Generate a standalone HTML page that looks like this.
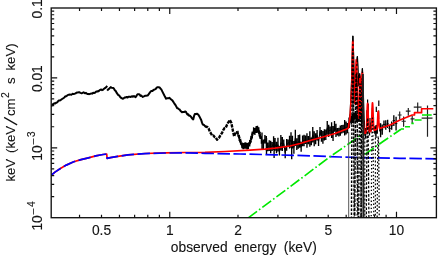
<!DOCTYPE html>
<html><head><meta charset="utf-8"><title>spectrum</title>
<style>html,body{margin:0;padding:0;background:#fff;}body{width:438px;height:256px;overflow:hidden;position:relative;font-family:"Liberation Sans",sans-serif;}</style>
</head><body>
<svg width="438" height="256" viewBox="0 0 438 256" style="position:absolute;left:0;top:0">
<rect width="438" height="256" fill="#fff"/>
<defs><clipPath id="c"><rect x="51.20" y="8.00" width="385.20" height="209.70"/></clipPath></defs>
<g clip-path="url(#c)" fill="none" stroke-linejoin="round">
<path d="M50.80 106.56 L51.60 105.73 L52.40 104.63 L53.20 104.07 L54.27 103.33 L55.33 103.41 L56.40 102.63 L57.20 102.30 L58.00 101.28 L58.80 100.60 L59.60 100.61 L60.67 100.08 L61.73 99.25 L62.80 98.51 L63.60 98.04 L64.40 97.49 L65.20 96.50 L66.00 96.32 L66.80 95.83 L67.60 95.18 L68.40 94.85 L69.20 94.78 L70.00 94.48 L70.80 94.64 L71.60 94.63 L72.40 93.85 L73.47 94.00 L74.53 93.72 L75.60 93.36 L76.40 92.69 L77.20 92.47 L78.00 92.40 L78.80 92.30 L79.60 92.35 L80.40 92.82 L81.20 93.15 L82.00 93.14 L83.60 92.28 L84.40 92.79 L85.20 93.27 L86.00 92.88 L86.80 93.61 L87.60 94.01 L88.40 94.03 L89.20 94.15 L90.40 93.78 L91.60 93.38 L92.42 93.64 L93.25 92.83 L94.08 92.95 L94.90 92.77 L95.97 91.76 L97.03 91.33 L98.10 91.45 L98.90 90.95 L99.70 90.12 L100.50 89.80 L101.30 89.55 L102.10 90.14 L102.90 89.87 L103.70 89.05 L105.30 87.83 L106.25 87.18 L107.20 85.90" stroke="#000" stroke-width="2.0"/>
<path d="M107.20 90.69 L108.25 89.37 L109.30 88.66 L110.10 87.72 L110.90 87.15 L111.70 87.87 L113.30 87.98 L114.10 88.90 L114.90 90.45 L115.70 90.92 L116.90 93.20 L118.10 94.89 L119.05 95.40 L120.00 96.70 L121.20 97.95 L122.50 98.69 L123.45 98.55 L124.40 97.61 L125.47 97.54 L126.53 96.92 L127.60 97.59 L128.40 96.77 L129.20 96.75 L130.00 96.75 L130.80 96.99 L131.87 96.27 L132.93 96.73 L134.00 96.10 L135.60 97.14 L136.40 96.16 L137.20 94.59 L138.00 94.13 L138.80 94.25 L139.60 94.47 L140.40 95.86 L141.20 95.47 L142.00 96.20 L142.80 96.87 L143.87 96.40 L144.93 95.86 L146.00 95.82 L146.80 95.60 L147.60 95.61 L148.40 94.53 L150.00 92.37 L150.80 91.46 L151.60 90.97 L152.40 91.03 L153.23 90.18 L154.07 89.71 L154.90 89.41 L155.80 88.89 L156.70 87.63 L157.60 87.14 L158.65 87.26 L159.70 87.51 L160.50 88.68 L161.30 89.34 L162.90 92.64 L164.50 95.77 L166.10 98.73 L166.90 98.27 L167.70 98.32 L168.50 98.23 L169.30 97.74 L170.10 98.44 L170.90 99.23 L172.50 100.61 L174.10 103.06 L175.70 105.35 L177.20 108.23 L178.00 108.36 L178.80 109.14 L179.60 109.51 L180.40 110.80 L181.20 111.51 L182.00 112.21 L182.80 111.89 L184.00 112.06 L185.20 111.49 L186.00 111.84 L186.80 113.69 L187.60 114.76 L188.40 114.40 L189.20 115.81 L190.00 115.68 L191.07 116.85 L192.13 118.52 L193.20 119.40 L194.00 116.19 L194.80 114.12 L196.00 114.07 L197.20 113.71 L198.00 114.43 L198.80 115.48 L199.60 116.87 L201.20 120.02 L202.00 122.66 L202.80 124.53 L204.00 124.97 L205.20 126.50" stroke="#000" stroke-width="2.0"/>
<path d="M205.00 125.93 L206.20 126.80 L207.40 127.02 L208.60 128.30 L209.80 131.78 L211.00 133.46 L212.20 135.75 L213.40 135.57 L214.60 137.02 L215.80 137.61 L217.00 139.75 L218.05 138.38 L219.10 137.61 L220.05 135.93 L221.00 134.56 L222.20 132.56 L223.40 129.81 L224.60 128.04 L225.80 127.67 L227.00 124.71 L228.20 122.52 L229.80 119.94 L231.40 123.09 L233.00 131.30 L234.20 136.48 L235.40 131.92 L237.00 132.50 L238.60 135.22 L240.20 141.08 L241.80 144.73 L243.40 147.57 L244.60 145.11 L245.80 145.18 L247.40 146.13 L248.60 144.34 L249.80 143.08 L251.40 138.08 L253.00 132.23 L254.25 130.81 L255.50 130.24 L257.10 127.38 L258.70 131.18 L260.30 137.40" stroke="#000" stroke-width="2.4" stroke-dasharray="3.4 1.0"/>
<path d="M238.00 130.70L238.00 136.50 M239.30 134.92L239.30 140.80 M240.60 138.63L240.60 144.61 M241.90 142.22L241.90 148.28 M243.20 142.98L243.20 149.13 M244.50 142.61L244.50 148.85 M245.80 142.33L245.80 148.65 M247.10 143.04L247.10 149.44 M248.40 142.45L248.40 148.94 M249.70 140.04L249.70 146.62 M251.00 135.78L251.00 142.45 M252.30 131.47L252.30 138.22 M253.60 127.27L253.60 134.11 M254.90 128.00L254.90 134.92 M256.20 126.05L256.20 133.06 M257.50 125.65L257.50 132.75 M258.80 127.20L258.80 134.39 M260.10 131.67L260.10 138.94 M261.40 136.31L261.40 143.67 M262.00 132.41L262.00 148.97 M263.45 139.48L263.45 149.32 M264.90 134.99L264.90 143.40 M266.35 136.05L266.35 151.05 M267.80 142.44L267.80 151.21 M269.25 140.24L269.25 150.89 M270.70 140.86L270.70 153.22 M272.15 142.10L272.15 151.12 M273.60 136.34L273.60 150.01 M275.05 138.04L275.05 150.78 M276.50 141.73L276.50 153.17 M277.95 137.71L277.95 151.56 M279.40 146.00L279.40 155.39 M280.85 134.90L280.85 150.48 M282.30 136.91L282.30 151.06 M283.75 139.39L283.75 147.54 M285.20 147.17L285.20 158.27 M286.65 139.07L286.65 150.86 M288.10 139.38L288.10 146.76 M289.55 135.82L289.55 148.43 M291.00 132.21L291.00 147.79 M292.45 135.69L292.45 148.52 M293.90 141.06L293.90 153.74 M295.35 129.78L295.35 146.03 M296.80 138.33L296.80 149.98 M298.25 134.89L298.25 148.77 M299.70 134.45L299.70 147.80 M301.15 141.86L301.15 151.65 M302.60 135.50L302.60 146.28 M304.05 134.63L304.05 146.15 M305.50 135.40L305.50 144.05 M306.95 133.27L306.95 147.80 M308.40 135.90L308.40 144.17 M309.85 131.22L309.85 146.76 M311.30 137.44L311.30 145.23 M312.75 126.96L312.75 142.62 M314.20 131.34L314.20 146.37 M315.65 133.30L315.65 144.37 M317.10 129.98L317.10 140.50 M318.55 137.57L318.55 146.05 M320.00 127.10L320.00 135.83 M321.45 130.11L321.45 141.86 M322.90 130.99L322.90 143.76 M324.35 129.36L324.35 140.46 M325.80 129.46L325.80 140.08 M327.25 120.89L327.25 134.66 M328.70 124.86L328.70 136.91 M330.15 126.41L330.15 133.94 M331.60 122.13L331.60 137.94 M333.05 126.11L333.05 140.93 M334.50 121.02L334.50 131.86 M335.95 123.87L335.95 137.08 M337.40 127.93L337.40 135.54 M338.85 127.85L338.85 136.44 M340.30 125.45L340.30 135.78 M341.75 125.08L341.75 133.56 M343.20 124.72L343.20 132.71 M344.65 119.93L344.65 135.50 M346.10 121.52L346.10 134.54 M347.55 122.92L347.55 133.33 M349.00 117.44L349.00 128.00 M274.10 140.00L274.10 158.00 M291.70 141.00L291.70 159.30 M266.50 138.00L266.50 154.00 M380.60 123.28L380.60 137.23 M382.25 124.42L382.25 134.79 M383.97 120.47L383.97 128.36 M385.77 120.26L385.77 129.79 M387.65 119.68L387.65 127.98 M389.61 124.81L389.61 132.17 M391.67 121.60L391.67 129.80 M393.82 115.18L393.82 126.07 M396.08 116.68L396.08 130.53" stroke="#000" stroke-width="1.35"/>
<path d="M262.00 140.69 L263.45 144.40 L264.90 139.20 L266.35 143.55 L267.80 146.82 L269.25 145.57 L270.70 147.04 L272.15 146.61 L273.60 143.18 L275.05 144.41 L276.50 147.45 L277.95 144.64 L279.40 150.69 L280.85 142.69 L282.30 143.99 L283.75 143.47 L285.20 152.72 L286.65 144.96 L288.10 143.07 L289.55 142.13 L291.00 140.00 L292.45 142.10 L293.90 147.40 L295.35 137.90 L296.80 144.16 L298.25 141.83 L299.70 141.13 L301.15 146.75 L302.60 140.89 L304.05 140.39 L305.50 139.73 L306.95 140.54 L308.40 140.04 L309.85 138.99 L311.30 141.33 L312.75 134.79 L314.20 138.85 L315.65 138.83 L317.10 135.24 L318.55 141.81 L320.00 131.47 L321.45 135.98 L322.90 137.37 L324.35 134.91 L325.80 134.77 L327.25 127.77 L328.70 130.89 L330.15 130.17 L331.60 130.04 L333.05 133.52 L334.50 126.44 L335.95 130.47 L337.40 131.74 L338.85 132.14 L340.30 130.62 L341.75 129.32 L343.20 128.71 L344.65 127.71 L346.10 128.03 L347.55 128.13 L349.00 122.72" stroke="#000" stroke-width="1.0"/>
<path d="M379.70 130.26L381.50 130.26 M381.31 129.61L383.19 129.61 M383.00 124.41L384.95 124.41 M384.76 125.02L386.78 125.02 M386.59 123.83L388.71 123.83 M388.51 128.49L390.72 128.49 M390.52 125.70L392.82 125.70 M392.62 120.62L395.02 120.62 M394.82 123.60L397.33 123.60" stroke="#000" stroke-width="1.0"/>
<path d="M397.80 115.00L401.60 115.00M399.70 111.50L399.70 119.50" stroke="#222" stroke-width="1.2"/>
<path d="M401.60 121.25L405.80 121.25M403.60 116.60L403.60 126.70" stroke="#222" stroke-width="1.2"/>
<path d="M405.80 111.10L410.50 111.10M408.30 108.00L408.30 115.80" stroke="#222" stroke-width="1.2"/>
<path d="M410.50 118.90L414.50 118.90M412.20 115.80L412.20 123.60" stroke="#222" stroke-width="1.2"/>
<path d="M413.75 107.20L421.60 107.20M417.70 102.50L417.70 111.90" stroke="#222" stroke-width="1.2"/>
<path d="M421.60 118.10L432.50 118.10M427.50 105.60L427.50 136.80" stroke="#222" stroke-width="1.2"/>
<path d="M349.40 128.00 L350.20 112.00 L351.40 85.00 L352.40 52.00 L352.90 36.30 L353.50 52.00 L354.30 78.00 L355.00 92.00 L355.80 80.00 L356.60 64.00 L357.40 56.70 L358.00 66.00 L358.70 86.00 L359.20 84.00 L359.60 73.80 L360.20 84.00 L361.00 94.00 L361.80 82.00 L362.40 68.70 L363.00 82.00 L363.60 104.00 L364.30 126.00" stroke="#000" stroke-width="1.2"/>
<path d="M350.00 114.56L350.00 122.69 M351.30 115.32L351.30 124.51 M352.60 114.06L352.60 123.19 M353.90 112.90L353.90 123.40 M355.20 111.40L355.20 119.64 M356.50 113.29L356.50 122.05 M357.80 114.92L357.80 122.02 M359.10 113.43L359.10 121.76 M360.40 109.06L360.40 119.39 M361.70 112.94L361.70 125.67 M363.00 112.42L363.00 122.44 M364.30 120.58L364.30 130.33 M365.60 128.05L365.60 138.60 M366.90 110.36L366.90 119.76 M368.20 103.70L368.20 116.53 M369.50 125.76L369.50 135.59 M370.80 122.45L370.80 131.88 M372.10 115.74L372.10 123.24 M373.40 117.08L373.40 129.26 M374.70 126.25L374.70 133.84 M376.00 125.02L376.00 137.91 M377.30 124.72L377.30 133.69 M378.60 110.40L378.60 119.10 M379.90 123.41L379.90 131.51" stroke="#000" stroke-width="1.3"/>
<path d="M367.6 99.5L367.6 104M378.8 100.5L378.8 106M376.3 106.8L376.3 112M372.4 108L372.4 114M370 118L370 127" stroke="#000" stroke-width="1.2"/>
<path d="M50.75 175.60 L55.30 171.90 L60.80 168.20 L66.30 165.10 L73.70 161.80 L81.00 159.60 L88.40 157.80 L95.70 155.90 L103.00 154.50 L106.70 154.00 L107.10 158.40 L110.40 157.70 L117.70 156.40 L128.00 154.90 L145.00 153.50 L165.00 152.80 L185.00 152.50 L205.00 152.30 L225.00 151.50 L250.00 150.20 L265.00 149.20 L275.00 148.20 L290.00 146.00 L300.00 143.50 L310.00 140.50 L322.00 137.20 L335.00 133.50 L346.00 129.20 L348.50 128.00 L348.60 126.87 L348.70 125.83 L348.80 124.77 L348.90 123.70 L349.00 122.60 L349.10 122.35 L349.20 122.05 L349.30 121.71 L349.40 121.32 L349.50 120.86 L349.60 120.32 L349.70 119.69 L349.80 118.96 L349.90 118.12 L350.00 117.16 L350.10 116.08 L350.20 114.86 L350.30 113.51 L350.40 112.04 L350.50 110.44 L350.60 108.74 L350.70 106.94 L350.80 105.08 L350.90 103.16 L351.00 101.21 L351.10 99.28 L351.20 97.34 L351.30 95.40 L351.40 93.43 L351.50 91.36 L351.60 89.08 L351.70 86.40 L351.80 83.11 L351.90 79.03 L352.00 74.11 L352.10 68.51 L352.20 62.55 L352.30 56.68 L352.40 51.33 L352.50 46.84 L352.60 43.48 L352.70 41.44 L352.80 40.80 L352.90 41.61 L353.00 43.86 L353.10 47.46 L353.20 52.27 L353.30 58.05 L353.40 64.47 L353.50 71.11 L353.60 77.49 L353.70 83.21 L353.80 88.01 L353.90 91.85 L354.00 94.85 L354.10 97.22 L354.20 99.11 L354.30 100.65 L354.40 101.88 L354.50 102.79 L354.60 103.34 L354.70 103.47 L354.80 103.10 L354.90 102.15 L355.00 100.54 L355.10 98.22 L355.20 95.20 L355.30 91.54 L355.40 87.39 L355.50 82.93 L355.60 78.39 L355.70 74.01 L355.80 69.97 L355.90 66.45 L356.00 63.57 L356.10 61.43 L356.20 60.10 L356.30 59.60 L356.40 59.95 L356.50 61.14 L356.60 63.12 L356.70 65.83 L356.80 69.18 L356.90 73.05 L357.00 77.29 L357.10 81.73 L357.20 86.19 L357.30 90.51 L357.40 94.55 L357.50 98.22 L357.60 101.49 L357.70 104.36 L357.80 106.86 L357.90 109.05 L358.00 110.96 L358.10 112.64 L358.20 114.09 L358.30 115.34 L358.40 116.38 L358.50 117.19 L358.60 117.75 L358.70 117.94 L358.80 117.63 L358.90 116.59 L359.00 114.59 L359.10 111.46 L359.20 107.21 L359.30 102.10 L359.40 96.54 L359.50 91.03 L359.60 85.99 L359.70 81.77 L359.80 78.61 L359.90 76.65 L360.00 76.00 L360.10 76.67 L360.20 78.64 L360.30 81.83 L360.40 86.08 L360.50 91.17 L360.60 96.75 L360.70 102.40 L360.80 107.60 L360.90 111.87 L361.00 114.83 L361.10 116.25 L361.20 116.01 L361.30 114.10 L361.40 110.59 L361.50 105.74 L361.60 99.98 L361.70 93.85 L361.80 87.87 L361.90 82.48 L362.00 78.02 L362.10 74.71 L362.20 72.67 L362.30 72.00 L362.40 72.71 L362.50 74.78 L362.60 78.14 L362.70 82.65 L362.80 88.11 L362.90 94.19 L363.00 100.47 L363.10 106.47 L363.20 111.68 L363.30 116.36 L363.40 119.96 L363.50 122.59 L363.60 124.48 L363.70 125.87 L363.80 126.96 L363.90 127.89 L364.00 128.74 L364.10 129.55 L364.20 130.35 L364.30 131.14 L364.40 131.93 L364.50 132.71 L364.60 133.50 L364.70 133.47 L364.80 133.43 L364.90 133.40 L365.00 133.37 L365.10 133.33 L365.20 133.30 L365.30 133.26 L365.40 133.23 L365.50 133.19 L365.60 133.15 L365.70 133.09 L365.80 133.02 L365.90 132.91 L366.00 132.74 L366.10 132.45 L366.20 132.00 L366.30 131.29 L366.40 130.24 L366.50 128.76 L366.60 126.79 L366.70 124.34 L366.80 121.46 L366.90 118.31 L367.00 115.06 L367.10 111.92 L367.20 109.08 L367.30 106.69 L367.40 104.90 L367.50 103.79 L367.60 103.40 L367.70 103.76 L367.80 104.85 L367.90 106.61 L368.00 108.95 L368.10 111.75 L368.20 114.84 L368.30 118.02 L368.40 121.09 L368.50 123.88 L368.60 126.24 L368.70 128.12 L368.80 129.50 L368.90 130.46 L369.00 131.09 L369.10 131.46 L369.20 131.67 L369.30 131.78 L369.40 131.82 L369.50 131.82 L369.60 131.81 L369.70 131.78 L369.80 131.75 L369.90 131.72 L370.00 131.69 L370.10 131.65 L370.20 131.62 L370.30 131.59 L370.40 131.55 L370.50 131.51 L370.60 131.45 L370.70 131.38 L370.80 131.28 L370.90 131.11 L371.00 130.84 L371.10 130.40 L371.20 129.73 L371.30 128.74 L371.40 127.33 L371.50 125.45 L371.60 123.10 L371.70 120.34 L371.80 117.30 L371.90 114.16 L372.00 111.11 L372.10 108.34 L372.20 106.02 L372.30 104.27 L372.40 103.18 L372.50 102.80 L372.60 103.15 L372.70 104.21 L372.80 105.93 L372.90 108.22 L373.00 110.94 L373.10 113.93 L373.20 117.00 L373.30 119.97 L373.40 122.64 L373.50 124.90 L373.60 126.68 L373.70 128.00 L373.80 128.91 L373.90 129.49 L374.00 129.85 L374.10 130.04 L374.20 130.14 L374.30 130.18 L374.40 130.18 L374.50 130.16 L374.60 130.14 L374.70 130.11 L374.80 130.08 L374.90 130.05 L375.00 130.01 L375.10 129.98 L375.20 129.95 L375.30 129.91 L375.40 129.88 L375.50 129.84 L375.60 129.81 L375.70 129.78 L375.80 129.74 L375.90 129.71 L376.00 129.68 L376.10 129.64 L376.20 129.61 L376.30 129.57 L376.40 129.53 L376.50 129.49 L376.60 129.43 L376.70 129.35 L376.80 129.22 L376.90 129.00 L377.00 128.66 L377.10 128.11 L377.20 127.29 L377.30 126.14 L377.40 124.61 L377.50 122.72 L377.60 120.57 L377.70 118.31 L377.80 116.10 L377.90 114.15 L378.00 112.62 L378.10 111.65 L378.20 111.30 L378.30 111.61 L378.40 112.55 L378.50 114.03 L378.60 115.93 L378.70 118.07 L378.80 120.27 L378.90 122.34 L379.00 124.14 L379.10 125.59 L379.20 126.66 L379.30 127.40 L379.40 127.87 L379.50 128.14 L379.60 128.28 L379.70 128.35 L379.80 128.36 L379.90 128.35 L380.00 128.33 L380.10 128.30 L380.20 128.27 L380.30 128.23 L380.40 128.20 L380.50 128.17 L380.60 128.13 L380.70 128.10 L380.80 128.07 L380.90 128.03 L381.00 128.00 L381.00 128.00 L390.00 125.00 L400.00 120.00 L412.20 115.00 L414.50 115.00 L414.50 112.70 L421.60 112.70 L421.60 108.75 L433.30 108.75" stroke="#f00" stroke-width="1.7"/>
<path d="M50.75 175.60 L55.30 171.90 L60.80 168.20 L66.30 165.10 L73.70 161.80 L81.00 159.60 L88.40 157.80 L95.70 155.90 L103.00 154.50 L106.70 154.00 L107.10 158.40 L110.40 157.70 L117.70 156.40 L128.00 154.90 L145.00 153.60 L165.00 153.00 L185.00 152.90 L205.00 153.30 L240.00 154.00 L275.00 154.80 L310.00 155.80 L340.00 157.00 L370.00 157.80 L400.00 158.30 L436.40 158.80" stroke="#00f" stroke-width="1.7" stroke-dasharray="12.5 3.5"/>
<path d="M248.20 217.90 L290.00 186.80 L330.30 156.50 L340.00 149.90 L362.50 134.00" stroke="#00e800" stroke-width="1.65" stroke-dasharray="11 2.5 1.6 2.5"/>
<path d="M364.80 154.40 L383.00 141.50 L401.00 129.20" stroke="#00e800" stroke-width="1.65" stroke-dasharray="11 2.5 1.6 2.5"/>
<path d="M401.00 129.00L404.00 129.00 M405.00 126.70L410.00 126.70 M411.40 123.30L413.75 123.30 M414.50 120.00L421.60 120.00 M422.00 115.00L431.70 115.00" stroke="#00e800" stroke-width="1.65"/>
<path d="M351.46 219.00 L351.50 210.65 L351.53 202.50 L351.56 194.57 L351.60 186.85 L351.63 179.35 L351.66 172.05 L351.70 164.96 L351.73 158.09 L351.77 151.43 L351.80 144.98 L351.83 138.74 L351.87 132.71 L351.90 126.90 L351.93 121.29 L351.97 115.90 L352.00 110.72 L352.03 105.75 L352.07 100.99 L352.10 96.44 L352.13 92.11 L352.17 87.98 L352.20 84.07 L352.23 80.37 L352.27 76.88 L352.30 73.60 L352.33 70.53 L352.37 67.68 L352.40 65.03 L352.43 62.60 L352.47 60.38 L352.50 58.37 L352.53 56.58 L352.57 54.99 L352.60 53.61 L352.63 52.45 L352.67 51.50 L352.70 50.76 L352.73 50.23 L352.77 49.91 L352.80 49.81 L352.83 49.91 L352.87 50.23 L352.90 50.76 L352.93 51.50 L352.97 52.45 L353.00 53.61 L353.03 54.99 L353.07 56.58 L353.10 58.37 L353.13 60.38 L353.17 62.60 L353.20 65.03 L353.23 67.68 L353.27 70.53 L353.30 73.60 L353.33 76.88 L353.37 80.37 L353.40 84.07 L353.43 87.98 L353.47 92.11 L353.50 96.44 L353.53 100.99 L353.57 105.75 L353.60 110.72 L353.63 115.90 L353.67 121.29 L353.70 126.90 L353.73 132.71 L353.77 138.74 L353.80 144.98 L353.83 151.43 L353.87 158.09 L353.90 164.96 L353.94 172.05 L353.97 179.35 L354.00 186.85 L354.04 194.57 L354.07 202.50 L354.10 210.65 L354.14 219.00" stroke="#000" stroke-width="1.45" stroke-dasharray="2.6 1.4" stroke-dashoffset="0.0"/>
<path d="M354.75 219.00 L354.79 211.82 L354.83 204.81 L354.87 197.99 L354.91 191.36 L354.95 184.90 L354.98 178.62 L355.02 172.53 L355.06 166.62 L355.10 160.89 L355.14 155.34 L355.18 149.98 L355.22 144.80 L355.26 139.79 L355.29 134.98 L355.33 130.34 L355.37 125.88 L355.41 121.61 L355.45 117.52 L355.49 113.61 L355.53 109.88 L355.56 106.33 L355.60 102.97 L355.64 99.78 L355.68 96.78 L355.72 93.96 L355.76 91.33 L355.80 88.87 L355.84 86.60 L355.87 84.51 L355.91 82.60 L355.95 80.87 L355.99 79.32 L356.03 77.96 L356.07 76.78 L356.11 75.78 L356.15 74.96 L356.18 74.32 L356.22 73.87 L356.26 73.59 L356.30 73.50 L356.34 73.59 L356.38 73.87 L356.42 74.32 L356.45 74.96 L356.49 75.78 L356.53 76.78 L356.57 77.96 L356.61 79.32 L356.65 80.87 L356.69 82.60 L356.73 84.51 L356.76 86.60 L356.80 88.87 L356.84 91.33 L356.88 93.96 L356.92 96.78 L356.96 99.78 L357.00 102.97 L357.04 106.33 L357.07 109.88 L357.11 113.61 L357.15 117.52 L357.19 121.61 L357.23 125.88 L357.27 130.34 L357.31 134.98 L357.34 139.79 L357.38 144.80 L357.42 149.98 L357.46 155.34 L357.50 160.89 L357.54 166.62 L357.58 172.53 L357.62 178.62 L357.65 184.90 L357.69 191.36 L357.73 197.99 L357.77 204.81 L357.81 211.82 L357.85 219.00" stroke="#000" stroke-width="1.45" stroke-dasharray="3.4 1.2" stroke-dashoffset="1.3"/>
<path d="M358.75 219.00 L358.78 212.33 L358.81 205.82 L358.84 199.48 L358.87 193.32 L358.90 187.32 L358.93 181.49 L358.97 175.83 L359.00 170.34 L359.03 165.01 L359.06 159.86 L359.09 154.88 L359.12 150.06 L359.15 145.41 L359.19 140.94 L359.22 136.63 L359.25 132.49 L359.28 128.52 L359.31 124.72 L359.34 121.08 L359.37 117.62 L359.40 114.32 L359.44 111.20 L359.47 108.24 L359.50 105.45 L359.53 102.83 L359.56 100.38 L359.59 98.10 L359.62 95.99 L359.66 94.05 L359.69 92.27 L359.72 90.67 L359.75 89.23 L359.78 87.97 L359.81 86.87 L359.84 85.94 L359.87 85.18 L359.91 84.59 L359.94 84.16 L359.97 83.91 L360.00 83.83 L360.03 83.91 L360.06 84.16 L360.09 84.59 L360.13 85.18 L360.16 85.94 L360.19 86.87 L360.22 87.97 L360.25 89.23 L360.28 90.67 L360.31 92.27 L360.34 94.05 L360.38 95.99 L360.41 98.10 L360.44 100.38 L360.47 102.83 L360.50 105.45 L360.53 108.24 L360.56 111.20 L360.60 114.32 L360.63 117.62 L360.66 121.08 L360.69 124.72 L360.72 128.52 L360.75 132.49 L360.78 136.63 L360.81 140.94 L360.85 145.41 L360.88 150.06 L360.91 154.88 L360.94 159.86 L360.97 165.01 L361.00 170.34 L361.03 175.83 L361.07 181.49 L361.10 187.32 L361.13 193.32 L361.16 199.48 L361.19 205.82 L361.22 212.33 L361.25 219.00" stroke="#000" stroke-width="1.45" stroke-dasharray="2.2 1.5" stroke-dashoffset="2.6"/>
<path d="M361.02 219.00 L361.05 212.07 L361.09 205.31 L361.12 198.72 L361.15 192.32 L361.18 186.08 L361.21 180.03 L361.25 174.15 L361.28 168.44 L361.31 162.91 L361.34 157.56 L361.37 152.38 L361.41 147.37 L361.44 142.55 L361.47 137.89 L361.50 133.42 L361.53 129.12 L361.57 124.99 L361.60 121.04 L361.63 117.27 L361.66 113.67 L361.69 110.24 L361.73 107.00 L361.76 103.92 L361.79 101.03 L361.82 98.31 L361.85 95.76 L361.88 93.39 L361.92 91.20 L361.95 89.18 L361.98 87.33 L362.01 85.67 L362.04 84.17 L362.08 82.86 L362.11 81.72 L362.14 80.75 L362.17 79.96 L362.20 79.35 L362.24 78.91 L362.27 78.64 L362.30 78.56 L362.33 78.64 L362.36 78.91 L362.40 79.35 L362.43 79.96 L362.46 80.75 L362.49 81.72 L362.52 82.86 L362.56 84.17 L362.59 85.67 L362.62 87.33 L362.65 89.18 L362.68 91.20 L362.72 93.39 L362.75 95.76 L362.78 98.31 L362.81 101.03 L362.84 103.92 L362.87 107.00 L362.91 110.24 L362.94 113.67 L362.97 117.27 L363.00 121.04 L363.03 124.99 L363.07 129.12 L363.10 133.42 L363.13 137.89 L363.16 142.55 L363.19 147.37 L363.23 152.38 L363.26 157.56 L363.29 162.91 L363.32 168.44 L363.35 174.15 L363.39 180.03 L363.42 186.08 L363.45 192.32 L363.48 198.72 L363.51 205.31 L363.55 212.07 L363.58 219.00" stroke="#000" stroke-width="1.45" stroke-dasharray="4.0 1.3" stroke-dashoffset="3.9"/>
<path d="M366.31 219.00 L366.34 214.02 L366.38 209.16 L366.41 204.43 L366.44 199.83 L366.47 195.35 L366.50 191.00 L366.54 186.77 L366.57 182.67 L366.60 178.70 L366.63 174.85 L366.67 171.13 L366.70 167.53 L366.73 164.06 L366.76 160.72 L366.79 157.50 L366.83 154.41 L366.86 151.45 L366.89 148.61 L366.92 145.90 L366.96 143.31 L366.99 140.85 L367.02 138.52 L367.05 136.31 L367.08 134.23 L367.12 132.28 L367.15 130.45 L367.18 128.74 L367.21 127.17 L367.25 125.72 L367.28 124.39 L367.31 123.19 L367.34 122.12 L367.37 121.17 L367.41 120.35 L367.44 119.66 L367.47 119.09 L367.50 118.65 L367.54 118.34 L367.57 118.15 L367.60 118.08 L367.63 118.15 L367.66 118.34 L367.70 118.65 L367.73 119.09 L367.76 119.66 L367.79 120.35 L367.83 121.17 L367.86 122.12 L367.89 123.19 L367.92 124.39 L367.95 125.72 L367.99 127.17 L368.02 128.74 L368.05 130.45 L368.08 132.28 L368.12 134.23 L368.15 136.31 L368.18 138.52 L368.21 140.85 L368.24 143.31 L368.28 145.90 L368.31 148.61 L368.34 151.45 L368.37 154.41 L368.41 157.50 L368.44 160.72 L368.47 164.06 L368.50 167.53 L368.53 171.13 L368.57 174.85 L368.60 178.70 L368.63 182.67 L368.66 186.77 L368.70 191.00 L368.73 195.35 L368.76 199.83 L368.79 204.43 L368.82 209.16 L368.86 214.02 L368.89 219.00" stroke="#000" stroke-width="1.25" stroke-dasharray="2.6 1.6" stroke-dashoffset="3.6"/>
<path d="M371.21 219.00 L371.24 214.02 L371.28 209.17 L371.31 204.44 L371.34 199.84 L371.37 195.36 L371.40 191.01 L371.44 186.79 L371.47 182.69 L371.50 178.72 L371.53 174.88 L371.57 171.16 L371.60 167.57 L371.63 164.10 L371.66 160.76 L371.69 157.55 L371.73 154.46 L371.76 151.49 L371.79 148.66 L371.82 145.95 L371.86 143.36 L371.89 140.91 L371.92 138.57 L371.95 136.37 L371.98 134.29 L372.02 132.33 L372.05 130.51 L372.08 128.80 L372.11 127.23 L372.15 125.78 L372.18 124.45 L372.21 123.26 L372.24 122.19 L372.27 121.24 L372.31 120.42 L372.34 119.73 L372.37 119.16 L372.40 118.72 L372.44 118.40 L372.47 118.21 L372.50 118.15 L372.53 118.21 L372.56 118.40 L372.60 118.72 L372.63 119.16 L372.66 119.73 L372.69 120.42 L372.73 121.24 L372.76 122.19 L372.79 123.26 L372.82 124.45 L372.85 125.78 L372.89 127.23 L372.92 128.80 L372.95 130.51 L372.98 132.33 L373.02 134.29 L373.05 136.37 L373.08 138.57 L373.11 140.91 L373.14 143.36 L373.18 145.95 L373.21 148.66 L373.24 151.49 L373.27 154.46 L373.31 157.55 L373.34 160.76 L373.37 164.10 L373.40 167.57 L373.43 171.16 L373.47 174.88 L373.50 178.72 L373.53 182.69 L373.56 186.79 L373.60 191.01 L373.63 195.36 L373.66 199.84 L373.69 204.44 L373.72 209.17 L373.76 214.02 L373.79 219.00" stroke="#000" stroke-width="1.25" stroke-dasharray="1.4 2.2" stroke-dashoffset="4.5"/>
<path d="M377.15 219.00 L377.18 214.91 L377.20 210.92 L377.23 207.04 L377.25 203.26 L377.28 199.59 L377.31 196.02 L377.33 192.55 L377.36 189.18 L377.39 185.92 L377.41 182.76 L377.44 179.71 L377.46 176.76 L377.49 173.91 L377.52 171.17 L377.54 168.53 L377.57 165.99 L377.60 163.56 L377.62 161.23 L377.65 159.00 L377.67 156.88 L377.70 154.86 L377.73 152.95 L377.75 151.14 L377.78 149.43 L377.81 147.82 L377.83 146.32 L377.86 144.92 L377.88 143.63 L377.91 142.44 L377.94 141.35 L377.96 140.37 L377.99 139.49 L378.02 138.71 L378.04 138.04 L378.07 137.47 L378.09 137.00 L378.12 136.64 L378.15 136.38 L378.17 136.23 L378.20 136.18 L378.23 136.23 L378.25 136.38 L378.28 136.64 L378.31 137.00 L378.33 137.47 L378.36 138.04 L378.38 138.71 L378.41 139.49 L378.44 140.37 L378.46 141.35 L378.49 142.44 L378.52 143.63 L378.54 144.92 L378.57 146.32 L378.59 147.82 L378.62 149.43 L378.65 151.14 L378.67 152.95 L378.70 154.86 L378.73 156.88 L378.75 159.00 L378.78 161.23 L378.80 163.56 L378.83 165.99 L378.86 168.53 L378.88 171.17 L378.91 173.91 L378.94 176.76 L378.96 179.71 L378.99 182.76 L379.01 185.92 L379.04 189.18 L379.07 192.55 L379.09 196.02 L379.12 199.59 L379.15 203.26 L379.17 207.04 L379.20 210.92 L379.22 214.91 L379.25 219.00" stroke="#000" stroke-width="1.25" stroke-dasharray="1.7 1.9" stroke-dashoffset="5.4"/>
<path d="M352.85 35.8L352.85 41.5M357.3 56.5L357.3 62M362.4 68.5L362.4 73M359.7 73.5L359.7 78" stroke="#000" stroke-width="1.3"/>
<path d="M352.9 44L352.9 118M356.9 64L356.9 118" stroke="#000" stroke-width="1.2" stroke-dasharray="2 2.2"/>
<path d="M362.9 74L363.4 130L363.4 218" stroke="#222" stroke-width="1.9"/>
<path d="M348.7 132L348.7 218" stroke="#555" stroke-width="1.0"/>
<path d="M357.10 134L357.10 218" stroke="#111" stroke-width="1.2" stroke-dasharray="1.8 2.0"/>
<path d="M364.80 134L364.80 218" stroke="#111" stroke-width="1.2" stroke-dasharray="1.8 2.0"/>
<path d="M375.40 134L375.40 218" stroke="#111" stroke-width="1.2" stroke-dasharray="1.8 2.0"/>
</g>
<rect x="51.20" y="8.00" width="385.20" height="209.70" fill="none" stroke="#111" stroke-width="1.35"/>
<path d="M79.53 217.70L79.53 214.70 M79.53 8.00L79.53 11.00 M101.50 217.70L101.50 214.70 M101.50 8.00L101.50 11.00 M119.45 217.70L119.45 214.70 M119.45 8.00L119.45 11.00 M134.63 217.70L134.63 214.70 M134.63 8.00L134.63 11.00 M147.78 217.70L147.78 214.70 M147.78 8.00L147.78 11.00 M159.38 217.70L159.38 214.70 M159.38 8.00L159.38 11.00 M169.75 217.70L169.75 211.70 M169.75 8.00L169.75 14.00 M238.00 217.70L238.00 214.70 M238.00 8.00L238.00 11.00 M277.93 217.70L277.93 214.70 M277.93 8.00L277.93 11.00 M306.25 217.70L306.25 214.70 M306.25 8.00L306.25 11.00 M328.22 217.70L328.22 214.70 M328.22 8.00L328.22 11.00 M346.18 217.70L346.18 214.70 M346.18 8.00L346.18 11.00 M361.36 217.70L361.36 214.70 M361.36 8.00L361.36 11.00 M374.50 217.70L374.50 214.70 M374.50 8.00L374.50 11.00 M386.10 217.70L386.10 214.70 M386.10 8.00L386.10 11.00 M396.48 217.70L396.48 211.70 M396.48 8.00L396.48 14.00 M51.20 196.66L54.20 196.66 M436.40 196.66L433.40 196.66 M51.20 184.35L54.20 184.35 M436.40 184.35L433.40 184.35 M51.20 175.62L54.20 175.62 M436.40 175.62L433.40 175.62 M51.20 168.84L54.20 168.84 M436.40 168.84L433.40 168.84 M51.20 163.31L54.20 163.31 M436.40 163.31L433.40 163.31 M51.20 158.63L54.20 158.63 M436.40 158.63L433.40 158.63 M51.20 154.57L54.20 154.57 M436.40 154.57L433.40 154.57 M51.20 151.00L54.20 151.00 M436.40 151.00L433.40 151.00 M51.20 147.80L57.20 147.80 M436.40 147.80L430.40 147.80 M51.20 126.76L54.20 126.76 M436.40 126.76L433.40 126.76 M51.20 114.45L54.20 114.45 M436.40 114.45L433.40 114.45 M51.20 105.72L54.20 105.72 M436.40 105.72L433.40 105.72 M51.20 98.94L54.20 98.94 M436.40 98.94L433.40 98.94 M51.20 93.41L54.20 93.41 M436.40 93.41L433.40 93.41 M51.20 88.73L54.20 88.73 M436.40 88.73L433.40 88.73 M51.20 84.67L54.20 84.67 M436.40 84.67L433.40 84.67 M51.20 81.10L54.20 81.10 M436.40 81.10L433.40 81.10 M51.20 77.90L57.20 77.90 M436.40 77.90L430.40 77.90 M51.20 56.86L54.20 56.86 M436.40 56.86L433.40 56.86 M51.20 44.55L54.20 44.55 M436.40 44.55L433.40 44.55 M51.20 35.82L54.20 35.82 M436.40 35.82L433.40 35.82 M51.20 29.04L54.20 29.04 M436.40 29.04L433.40 29.04 M51.20 23.51L54.20 23.51 M436.40 23.51L433.40 23.51 M51.20 18.83L54.20 18.83 M436.40 18.83L433.40 18.83 M51.20 14.77L54.20 14.77 M436.40 14.77L433.40 14.77 M51.20 11.20L54.20 11.20 M436.40 11.20L433.40 11.20" stroke="#111" stroke-width="1.2" fill="none"/>
<g opacity="0.99">
<text x="101.50" y="234.60" font-size="13.80" text-anchor="middle" font-family="Liberation Sans, sans-serif" fill="#111" stroke="#111" stroke-width="0.12" >0.5</text>
<text x="169.75" y="234.60" font-size="13.80" text-anchor="middle" font-family="Liberation Sans, sans-serif" fill="#111" stroke="#111" stroke-width="0.12" >1</text>
<text x="238.00" y="234.60" font-size="13.80" text-anchor="middle" font-family="Liberation Sans, sans-serif" fill="#111" stroke="#111" stroke-width="0.12" >2</text>
<text x="328.22" y="234.60" font-size="13.80" text-anchor="middle" font-family="Liberation Sans, sans-serif" fill="#111" stroke="#111" stroke-width="0.12" >5</text>
<text x="396.48" y="234.60" font-size="13.80" text-anchor="middle" font-family="Liberation Sans, sans-serif" fill="#111" stroke="#111" stroke-width="0.12" >10</text>
<text x="170.80" y="251.60" font-size="13.80" text-anchor="start" font-family="Liberation Sans, sans-serif" fill="#111" stroke="#111" stroke-width="0.12" >observed</text>
<text x="234.20" y="251.60" font-size="13.80" text-anchor="start" font-family="Liberation Sans, sans-serif" fill="#111" stroke="#111" stroke-width="0.12" >energy</text>
<text x="283.80" y="251.60" font-size="13.80" text-anchor="start" font-family="Liberation Sans, sans-serif" fill="#111" stroke="#111" stroke-width="0.12" >(keV)</text>
<text transform="translate(42.20 8.80) rotate(-90)" font-size="13.80" text-anchor="middle" font-family="Liberation Sans, sans-serif" fill="#111" stroke="#111" stroke-width="0.12">0.1</text>
<text transform="translate(42.20 78.70) rotate(-90)" font-size="13.80" text-anchor="middle" font-family="Liberation Sans, sans-serif" fill="#111" stroke="#111" stroke-width="0.12">0.01</text>
<text transform="translate(42.20 160.70) rotate(-90)" font-size="13.80" text-anchor="start" font-family="Liberation Sans, sans-serif" fill="#111" stroke="#111" stroke-width="0.12">10</text>
<text transform="translate(35.60 144.50) rotate(-90)" font-size="10.50" text-anchor="start" font-family="Liberation Sans, sans-serif" fill="#111" stroke="#111" stroke-width="0.12">–</text>
<text transform="translate(35.20 137.20) rotate(-90)" font-size="10.50" text-anchor="start" font-family="Liberation Sans, sans-serif" fill="#111" stroke="#111" stroke-width="0.12">3</text>
<text transform="translate(42.20 230.60) rotate(-90)" font-size="13.80" text-anchor="start" font-family="Liberation Sans, sans-serif" fill="#111" stroke="#111" stroke-width="0.12">10</text>
<text transform="translate(35.60 214.40) rotate(-90)" font-size="10.50" text-anchor="start" font-family="Liberation Sans, sans-serif" fill="#111" stroke="#111" stroke-width="0.12">–</text>
<text transform="translate(35.20 207.10) rotate(-90)" font-size="10.50" text-anchor="start" font-family="Liberation Sans, sans-serif" fill="#111" stroke="#111" stroke-width="0.12">4</text>
<text transform="translate(15.00 181.60) rotate(-90)" font-size="13.20" text-anchor="start" font-family="Liberation Sans, sans-serif" fill="#111" stroke="#111" stroke-width="0.12">keV</text>
<text transform="translate(15.00 153.00) rotate(-90)" font-size="13.20" text-anchor="start" font-family="Liberation Sans, sans-serif" fill="#111" stroke="#111" stroke-width="0.12">(keV</text>
<path d="M17.1 124.9L4.1 117.4" stroke="#111" stroke-width="1.25" fill="none"/>
<text transform="translate(15.00 116.00) rotate(-90)" font-size="13.20" text-anchor="start" font-family="Liberation Sans, sans-serif" fill="#111" stroke="#111" stroke-width="0.12">cm</text>
<text transform="translate(8.60 97.90) rotate(-90)" font-size="10.50" text-anchor="start" font-family="Liberation Sans, sans-serif" fill="#111" stroke="#111" stroke-width="0.12">2</text>
<text transform="translate(15.00 84.00) rotate(-90)" font-size="13.20" text-anchor="start" font-family="Liberation Sans, sans-serif" fill="#111" stroke="#111" stroke-width="0.12">s</text>
<text transform="translate(15.00 70.50) rotate(-90)" font-size="13.20" text-anchor="start" font-family="Liberation Sans, sans-serif" fill="#111" stroke="#111" stroke-width="0.12">keV)</text>
</g>
</svg>
</body></html>
